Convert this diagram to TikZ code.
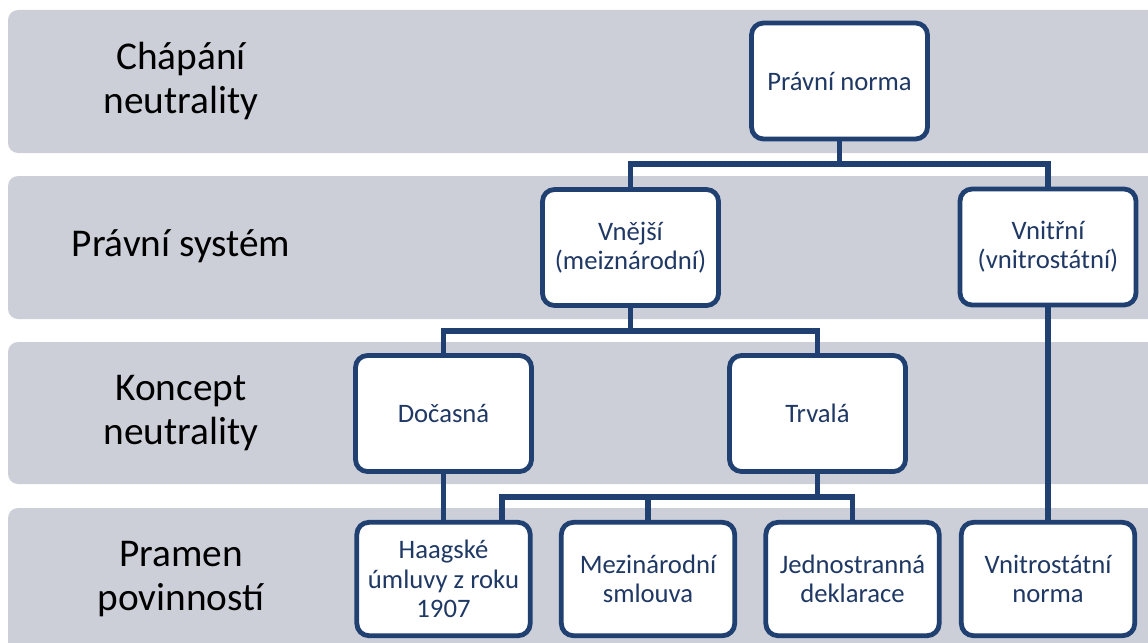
\documentclass[tikz,border=0pt]{standalone}
\usepackage{fontspec}
\setmainfont{Carlito}
\definecolor{bandgray}{RGB}{204,207,216}
\definecolor{navy}{RGB}{31,64,112}
\definecolor{navytext}{RGB}{31,56,100}
\begin{document}
\begin{tikzpicture}[x=0.75pt,y=-0.75pt,
  band/.style={fill=bandgray, draw=none, rounded corners=7.5pt},
  rowlabel/.style={font=\fontsize{29.5}{33}\selectfont, align=center, text=black, inner sep=0pt},
  box/.style={draw=navy, line width=3.6pt, fill=white, rounded corners=9pt,
    minimum width=132pt, minimum height=87pt, inner sep=0pt, align=center,
    text=navytext, font=\fontsize{20}{22}\selectfont},
  lowbox/.style={box, minimum width=130pt, minimum height=85pt},
  conn/.style={draw=navy, line width=3.8pt}]
\useasboundingbox (0,0) rectangle (1148,642);
\clip (0,0) rectangle (1148,642);
% bands
\fill[band] (8,10) rectangle (1170,153);
\fill[band] (8,176) rectangle (1170,319);
\fill[band] (8,342) rectangle (1170,484);
\fill[band] (8,508) rectangle (1170,652);
% row labels
\node[rowlabel] (l1) at (181,81) {Chápání\\neutrality};
\node[rowlabel] (l2) at (181,246) {Právní systém};
\node[rowlabel] (l3) at (181,413) {Koncept\\neutrality};
\node[rowlabel] (l4) at (181,579) {Pramen\\povinností};
% boxes
\node[box] (norma) at (839.5,81) {Právní norma};
\node[box] (vnejsi) at (630.5,247.5) {Vnější\\(meiznárodní)};
\node[box] (vnitrni) at (1048,247) {Vnitřní\\(vnitrostátní)};
\node[box] (docasna) at (443.5,413.5) {Dočasná};
\node[box] (trvala) at (817.5,413.5) {Trvalá};
\node[lowbox] (haag) at (443.5,579) {Haagské\\úmluvy z roku\\1907};
\node[lowbox] (mezi) at (648,579) {Mezinárodní\\smlouva};
\node[lowbox] (jedn) at (852.5,579) {Jednostranná\\deklarace};
\node[lowbox] (vnitro) at (1048,579) {Vnitrostátní\\norma};
% junctions
\coordinate (j1) at (norma.south |- 0,164);
\coordinate (j2) at (vnejsi.south |- 0,331);
\coordinate (j3) at (trvala.south |- 0,497);
\coordinate (j3l) at (502,497);
% connectors
\draw[conn] (norma.south) -- (j1);
\draw[conn] (vnejsi.north) |- (j1) -| (vnitrni.north);
\draw[conn] (vnejsi.south) -- (j2);
\draw[conn] (docasna.north) |- (j2) -| (trvala.north);
\draw[conn] (docasna.south) -- (haag.north);
\draw[conn] (trvala.south) -- (j3);
\draw[conn] (haag.north -| j3l) -- (j3l) -| (jedn.north);
\draw[conn] (mezi.north) -- (mezi.north |- j3l);
\draw[conn] (vnitrni.south) -- (vnitro.north);
\end{tikzpicture}
\end{document}
